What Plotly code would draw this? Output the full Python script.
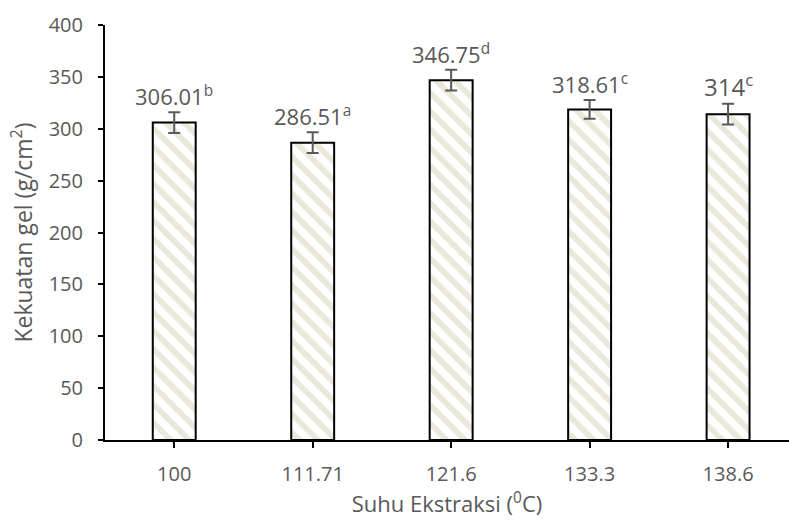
import plotly.graph_objects as go

# Extraction temperature (°C) and gel strength (g/cm²)
suhu = ["100", "111.71", "121.6", "133.3", "138.6"]
kekuatan = [306.01, 286.51, 346.75, 318.61, 314]
galat = [10, 10, 10, 9, 10]
notasi = ["b", "a", "d", "c", "c"]
label_teks = ["306.01", "286.51", "346.75", "318.61", "314"]
label_ukuran = [22, 22, 22, 22, 24]

abu = "#595959"
font_nama = "Open Sans"

fig = go.Figure(
    go.Bar(
        x=suhu,
        y=kekuatan,
        width=0.31,
        marker=dict(
            color="white",
            line=dict(color="black", width=2),
            pattern=dict(shape="\\", fgcolor="#d6d0b8", bgcolor="white",
                         size=13, solidity=0.45),
        ),
        error_y=dict(type="data", array=galat, visible=True,
                     color=abu, thickness=2, width=6),
    )
)

# value labels with significance letters, placed above each error bar
for i, (ys, e, t, n, s) in enumerate(zip(kekuatan, galat, label_teks, notasi, label_ukuran)):
    fig.add_annotation(
        x=i, y=ys + e, xref="x", yref="y",
        text=f"{t}<sup>{n}</sup>",
        showarrow=False, yanchor="bottom", yshift=-1,
        font=dict(family=font_nama, size=s, color=abu),
    )

fig.update_layout(
    width=789, height=520,
    margin=dict(l=105, r=0, t=25, b=80),
    plot_bgcolor="white", paper_bgcolor="white",
    showlegend=False,
    font=dict(family=font_nama, size=20, color=abu),
)
fig.update_xaxes(
    type="category", range=[-0.5, 4.44],
    showline=True, linecolor="black", linewidth=2,
    ticks="outside", ticklen=6, tickwidth=2, tickcolor="black",
    ticklabelstandoff=9,
    showgrid=False,
    title=dict(text="Suhu Ekstraksi (<sup>0</sup>C)", standoff=10,
               font=dict(family=font_nama, size=22, color=abu)),
    tickfont=dict(family=font_nama, size=20, color=abu),
)
fig.update_yaxes(
    range=[0, 400], tickvals=[0, 50, 100, 150, 200, 250, 300, 350, 400],
    showline=True, linecolor="black", linewidth=2,
    ticks="outside", ticklen=5, tickwidth=2, tickcolor="black",
    ticklabelstandoff=11,
    showgrid=False, zeroline=False,
    title=dict(text="Kekuatan gel (g/cm<sup>2</sup>)", standoff=10,
               font=dict(family=font_nama, size=23, color=abu)),
    tickfont=dict(family=font_nama, size=20, color=abu),
)

fig.write_html("out.html")
